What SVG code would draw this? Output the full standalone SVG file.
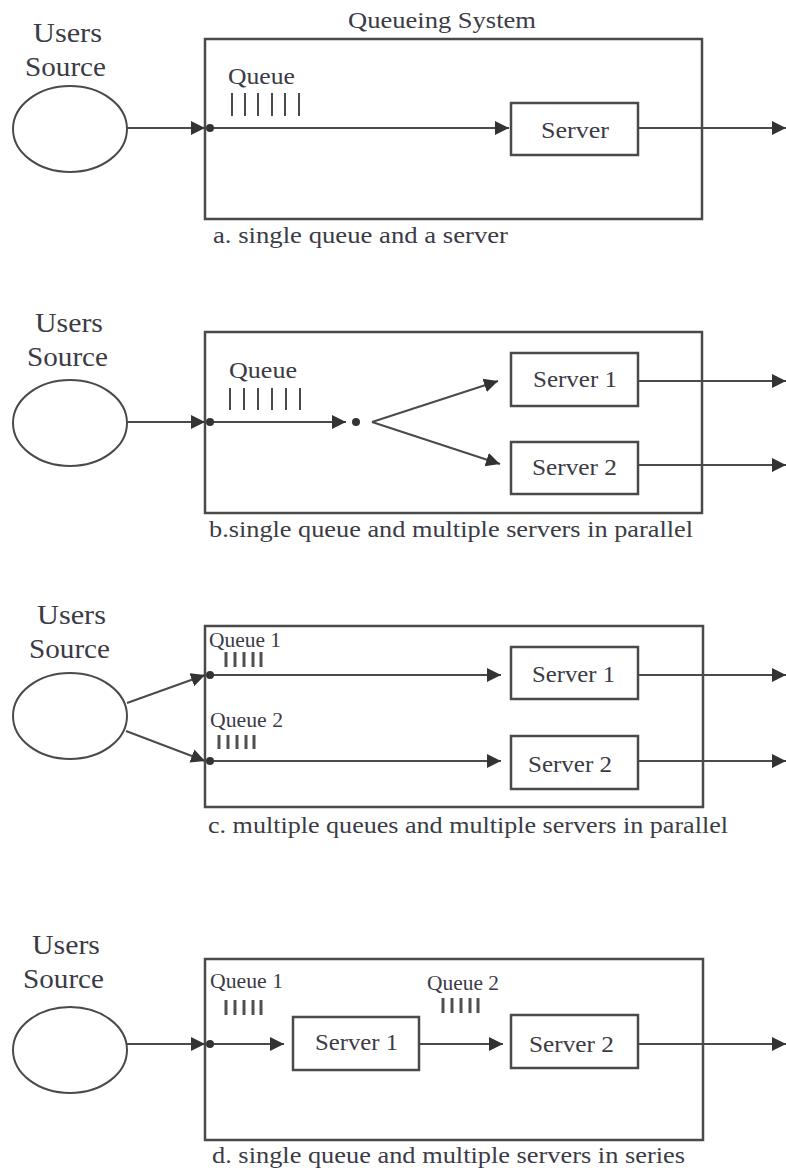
<svg xmlns="http://www.w3.org/2000/svg" width="786" height="1173" viewBox="0 0 786 1173">
  <style>
    .t { font-family: "Liberation Serif", "Times New Roman", serif; fill: #3b3b46; }
    .big { font-size: 27px; }
    .cap { font-size: 24px; }
    .lbl { font-size: 24px; }
    .sm { font-size: 20px; }
    .box { fill: none; stroke: #4a4a4a; stroke-width: 2.5; }
    .src { fill: #ffffff; stroke: #4a4a4a; stroke-width: 2; }
    .edge { fill: none; stroke: #4a4a4a; stroke-width: 2; }
    .arr { marker-end: url(#head); }
    .dot { fill: #333333; }
    .tick { stroke: #4a4a4a; stroke-width: 2; }
    .tick3 { stroke: #505050; stroke-width: 3; }
  </style>
  <defs>
    <marker id="head" markerUnits="userSpaceOnUse" markerWidth="15" markerHeight="15" refX="14" refY="7.5" orient="auto">
      <path d="M0,0.5 L14,7.5 L0,14.5 z" fill="#333333"/>
    </marker>
  </defs>
  <rect width="786" height="1173" fill="#ffffff"/>

  <!-- a. single queue and a server -->
  <g id="a-source">
    <text class="t big" x="33" y="42" textLength="69" lengthAdjust="spacingAndGlyphs">Users</text>
    <text class="t big" x="25" y="76" textLength="81" lengthAdjust="spacingAndGlyphs">Source</text>
    <ellipse class="src" cx="70" cy="129" rx="57" ry="43"/>
  </g>
  <g id="a-system">
    <text class="t lbl" x="348" y="28" textLength="188" lengthAdjust="spacingAndGlyphs">Queueing System</text>
    <rect class="box" x="205" y="39" width="497" height="180"/>
    <text class="t lbl" x="228" y="84" textLength="67" lengthAdjust="spacingAndGlyphs">Queue</text>
    <g>
      <line class="tick" x1="232" y1="93" x2="232" y2="116"/>
      <line class="tick" x1="245" y1="93" x2="245" y2="116"/>
      <line class="tick" x1="258" y1="93" x2="258" y2="116"/>
      <line class="tick" x1="272" y1="93" x2="272" y2="116"/>
      <line class="tick" x1="285" y1="93" x2="285" y2="116"/>
      <line class="tick" x1="299" y1="93" x2="299" y2="116"/>
    </g>
    <text class="t cap" x="213" y="243" textLength="295" lengthAdjust="spacingAndGlyphs">a. single queue and a server</text>
  </g>
  <g id="a-server">
    <rect class="box" x="511" y="103" width="127" height="52"/>
    <text class="t lbl" x="541" y="138" textLength="68" lengthAdjust="spacingAndGlyphs">Server</text>
  </g>

  <!-- b. single queue and multiple servers in parallel -->
  <g id="b-source">
    <text class="t big" x="35" y="332" textLength="68" lengthAdjust="spacingAndGlyphs">Users</text>
    <text class="t big" x="27" y="366" textLength="81" lengthAdjust="spacingAndGlyphs">Source</text>
    <ellipse class="src" cx="70" cy="423" rx="57" ry="43"/>
  </g>
  <g id="b-system">
    <rect class="box" x="205" y="332" width="497" height="181"/>
    <text class="t lbl" x="229" y="378" textLength="68" lengthAdjust="spacingAndGlyphs">Queue</text>
    <g>
      <line class="tick" x1="230" y1="388" x2="230" y2="410"/>
      <line class="tick" x1="244" y1="388" x2="244" y2="410"/>
      <line class="tick" x1="258" y1="388" x2="258" y2="410"/>
      <line class="tick" x1="272" y1="388" x2="272" y2="410"/>
      <line class="tick" x1="286" y1="388" x2="286" y2="410"/>
      <line class="tick" x1="300" y1="388" x2="300" y2="410"/>
    </g>
    <text class="t cap" x="209" y="537" textLength="484" lengthAdjust="spacingAndGlyphs">b.single queue and multiple servers in parallel</text>
  </g>
  <g id="b-server1">
    <rect class="box" x="511" y="353" width="127" height="53"/>
    <text class="t lbl" x="533" y="387" textLength="84" lengthAdjust="spacingAndGlyphs">Server 1</text>
  </g>
  <g id="b-server2">
    <rect class="box" x="511" y="442" width="127" height="52"/>
    <text class="t lbl" x="532" y="475" textLength="85" lengthAdjust="spacingAndGlyphs">Server 2</text>
  </g>

  <!-- c. multiple queues and multiple servers in parallel -->
  <g id="c-source">
    <text class="t big" x="37" y="624" textLength="69" lengthAdjust="spacingAndGlyphs">Users</text>
    <text class="t big" x="29" y="658" textLength="81" lengthAdjust="spacingAndGlyphs">Source</text>
    <ellipse class="src" cx="70" cy="716" rx="57" ry="43"/>
  </g>
  <g id="c-system">
    <rect class="box" x="205" y="626" width="498" height="181"/>
    <text class="t sm" x="209" y="647" textLength="72" lengthAdjust="spacingAndGlyphs">Queue 1</text>
    <g>
      <line class="tick3" x1="226" y1="652" x2="226" y2="667"/>
      <line class="tick3" x1="235" y1="652" x2="235" y2="667"/>
      <line class="tick3" x1="244" y1="652" x2="244" y2="667"/>
      <line class="tick3" x1="253" y1="652" x2="253" y2="667"/>
      <line class="tick3" x1="261" y1="652" x2="261" y2="667"/>
    </g>
    <text class="t sm" x="210" y="727" textLength="73" lengthAdjust="spacingAndGlyphs">Queue 2</text>
    <g>
      <line class="tick3" x1="219" y1="735" x2="219" y2="749"/>
      <line class="tick3" x1="228" y1="735" x2="228" y2="749"/>
      <line class="tick3" x1="237" y1="735" x2="237" y2="749"/>
      <line class="tick3" x1="246" y1="735" x2="246" y2="749"/>
      <line class="tick3" x1="254" y1="735" x2="254" y2="749"/>
    </g>
    <text class="t cap" x="208" y="833" textLength="520" lengthAdjust="spacingAndGlyphs">c. multiple queues and multiple servers in parallel</text>
  </g>
  <g id="c-server1">
    <rect class="box" x="511" y="647" width="127" height="52"/>
    <text class="t lbl" x="532" y="682" textLength="83" lengthAdjust="spacingAndGlyphs">Server 1</text>
  </g>
  <g id="c-server2">
    <rect class="box" x="511" y="736" width="127" height="53"/>
    <text class="t lbl" x="528" y="772" textLength="84" lengthAdjust="spacingAndGlyphs">Server 2</text>
  </g>

  <!-- d. single queue and multiple servers in series -->
  <g id="d-source">
    <text class="t big" x="32" y="954" textLength="68" lengthAdjust="spacingAndGlyphs">Users</text>
    <text class="t big" x="23" y="988" textLength="81" lengthAdjust="spacingAndGlyphs">Source</text>
    <ellipse class="src" cx="70" cy="1050" rx="57" ry="43"/>
  </g>
  <g id="d-system">
    <rect class="box" x="205" y="959" width="498" height="181"/>
    <text class="t sm" x="210" y="988" textLength="73" lengthAdjust="spacingAndGlyphs">Queue 1</text>
    <g>
      <line class="tick3" x1="226" y1="1000" x2="226" y2="1015"/>
      <line class="tick3" x1="235" y1="1000" x2="235" y2="1015"/>
      <line class="tick3" x1="244" y1="1000" x2="244" y2="1015"/>
      <line class="tick3" x1="253" y1="1000" x2="253" y2="1015"/>
      <line class="tick3" x1="261" y1="1000" x2="261" y2="1015"/>
    </g>
    <text class="t sm" x="427" y="990" textLength="72" lengthAdjust="spacingAndGlyphs">Queue 2</text>
    <g>
      <line class="tick3" x1="443" y1="998" x2="443" y2="1013"/>
      <line class="tick3" x1="452" y1="998" x2="452" y2="1013"/>
      <line class="tick3" x1="461" y1="998" x2="461" y2="1013"/>
      <line class="tick3" x1="470" y1="998" x2="470" y2="1013"/>
      <line class="tick3" x1="478" y1="998" x2="478" y2="1013"/>
    </g>
    <text class="t cap" x="212" y="1163" textLength="473" lengthAdjust="spacingAndGlyphs">d. single queue and multiple servers in series</text>
  </g>
  <g id="d-server1">
    <rect class="box" x="293" y="1017" width="126" height="53"/>
    <text class="t lbl" x="315" y="1050" textLength="83" lengthAdjust="spacingAndGlyphs">Server 1</text>
  </g>
  <g id="d-server2">
    <rect class="box" x="511" y="1015" width="127" height="53"/>
    <text class="t lbl" x="529" y="1052" textLength="85" lengthAdjust="spacingAndGlyphs">Server 2</text>
  </g>

  <!-- flow connectors and junction points -->
  <g id="connectors">
    <!-- a -->
    <line class="edge arr" x1="127" y1="128" x2="205" y2="128"/>
    <line class="edge arr" x1="210" y1="128" x2="509" y2="128"/>
    <line class="edge arr" x1="638" y1="128" x2="786" y2="128"/>
    <circle class="dot" cx="210" cy="128" r="4"/>
    <!-- b -->
    <line class="edge arr" x1="127" y1="422" x2="205" y2="422"/>
    <line class="edge arr" x1="210" y1="422" x2="346" y2="422"/>
    <line class="edge arr" x1="372" y1="422" x2="498" y2="381"/>
    <line class="edge arr" x1="372" y1="422" x2="500" y2="464"/>
    <line class="edge arr" x1="638" y1="381" x2="786" y2="381"/>
    <line class="edge arr" x1="638" y1="465" x2="786" y2="465"/>
    <circle class="dot" cx="210" cy="422" r="4"/>
    <circle class="dot" cx="356" cy="422" r="4"/>
    <!-- c -->
    <line class="edge arr" x1="127" y1="703" x2="205" y2="675"/>
    <line class="edge arr" x1="126" y1="731" x2="205" y2="761"/>
    <line class="edge arr" x1="210" y1="675" x2="501" y2="675"/>
    <line class="edge arr" x1="210" y1="761" x2="501" y2="761"/>
    <line class="edge arr" x1="638" y1="675" x2="786" y2="675"/>
    <line class="edge arr" x1="638" y1="761" x2="786" y2="761"/>
    <circle class="dot" cx="210" cy="675" r="4"/>
    <circle class="dot" cx="210" cy="761" r="4"/>
    <!-- d -->
    <line class="edge arr" x1="127" y1="1044" x2="205" y2="1044"/>
    <line class="edge arr" x1="210" y1="1044" x2="284" y2="1044"/>
    <line class="edge arr" x1="419" y1="1044" x2="503" y2="1044"/>
    <line class="edge arr" x1="638" y1="1044" x2="786" y2="1044"/>
    <circle class="dot" cx="210" cy="1044" r="4"/>
  </g>
</svg>
